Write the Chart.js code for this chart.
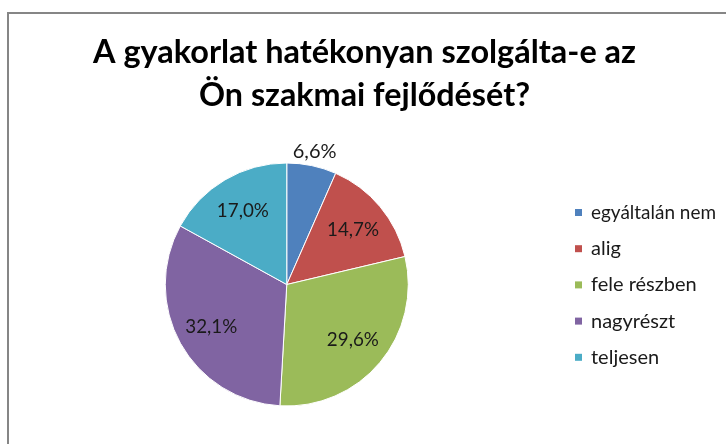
<!DOCTYPE html>
<html>
<head>
<meta charset="utf-8">
<script src="https://cdn.jsdelivr.net/npm/chart.js@4"></script>
<style>
  html, body { margin: 0; padding: 0; background: #fff; }
  #wrap { position: relative; width: 726px; height: 444px; overflow: hidden; }
  #frame { position: absolute; left: 7px; top: 12px; width: 730px; height: 440px;
           border-left: 2px solid #868686; border-top: 2px solid #868686; }
  #c { position: absolute; left: 0; top: 0; }
</style>
</head>
<body>
<div id="wrap">
  <div id="frame"></div>
  <canvas id="c" width="726" height="444"></canvas>
</div>
<script>
const titleLines = ['A gyakorlat hatékonyan szolgálta-e az', 'Ön szakmai fejlődését?'];
const categories = ['egyáltalán nem', 'alig', 'fele részben', 'nagyrészt', 'teljesen'];
const percentValues = [6.6, 14.7, 29.6, 32.1, 17.0];
const sliceColors = ['#4F81BD', '#C0504D', '#9BBB59', '#8064A2', '#4BACC6'];

const FONT = 'Lato, "Open Sans", sans-serif';

const titlePlugin = {
  id: 'titleDraw',
  afterDraw(chart) {
    const ctx = chart.ctx;
    ctx.save();
    ctx.fillStyle = '#000';
    ctx.textAlign = 'center';
    ctx.textBaseline = 'alphabetic';
    ctx.font = 'bold 33px ' + FONT;
    ctx.fillText(titleLines[0], 364.5, 63, 543);
    ctx.fillText(titleLines[1], 364.5, 106, 331);
    ctx.restore();
  }
};

const labelPlugin = {
  id: 'sliceLabels',
  afterDatasetsDraw(chart) {
    const ctx = chart.ctx;
    const meta = chart.getDatasetMeta(0);
    ctx.save();
    ctx.fillStyle = '#1a1a1a';
    ctx.textAlign = 'center';
    ctx.textBaseline = 'middle';
    ctx.font = '20px ' + FONT;
    meta.data.forEach((arc, i) => {
      const p = arc.getProps(['x', 'y', 'startAngle', 'endAngle', 'outerRadius'], true);
      const mid = (p.startAngle + p.endAngle) / 2;
      const v = chart.data.datasets[0].data[i];
      const r = v < 10 ? p.outerRadius + 14 : p.outerRadius * 0.71;
      const tx = p.x + Math.cos(mid) * r;
      const ty = p.y + Math.sin(mid) * r;
      ctx.fillText(v.toFixed(1).replace('.', ',') + '%', tx, ty, 52);
    });
    ctx.restore();
  }
};

const legendPlugin = {
  id: 'sideLegend',
  afterDraw(chart) {
    const ctx = chart.ctx;
    ctx.save();
    ctx.textAlign = 'left';
    ctx.textBaseline = 'middle';
    ctx.font = '20px ' + FONT;
    chart.data.labels.forEach((lab, i) => {
      const cy = 212.5 + i * 36.2;
      ctx.fillStyle = chart.data.datasets[0].backgroundColor[i];
      ctx.fillRect(575, cy - 3.5, 7, 7);
      ctx.fillStyle = '#1a1a1a';
      ctx.fillText(lab, 591, cy, 125);
    });
    ctx.restore();
  }
};

new Chart(document.getElementById('c'), {
  type: 'pie',
  data: {
    labels: categories,
    datasets: [{
      data: percentValues,
      backgroundColor: sliceColors,
      borderColor: '#ffffff',
      borderWidth: 1
    }]
  },
  options: {
    responsive: false,
    devicePixelRatio: 1,
    animation: false,
    layout: { padding: { left: 164.5, right: 317, top: 162.5, bottom: 37.5 } },
    plugins: {
      legend: { display: false },
      title: { display: false },
      tooltip: { enabled: false }
    }
  },
  plugins: [titlePlugin, labelPlugin, legendPlugin]
});
</script>
</body>
</html>
